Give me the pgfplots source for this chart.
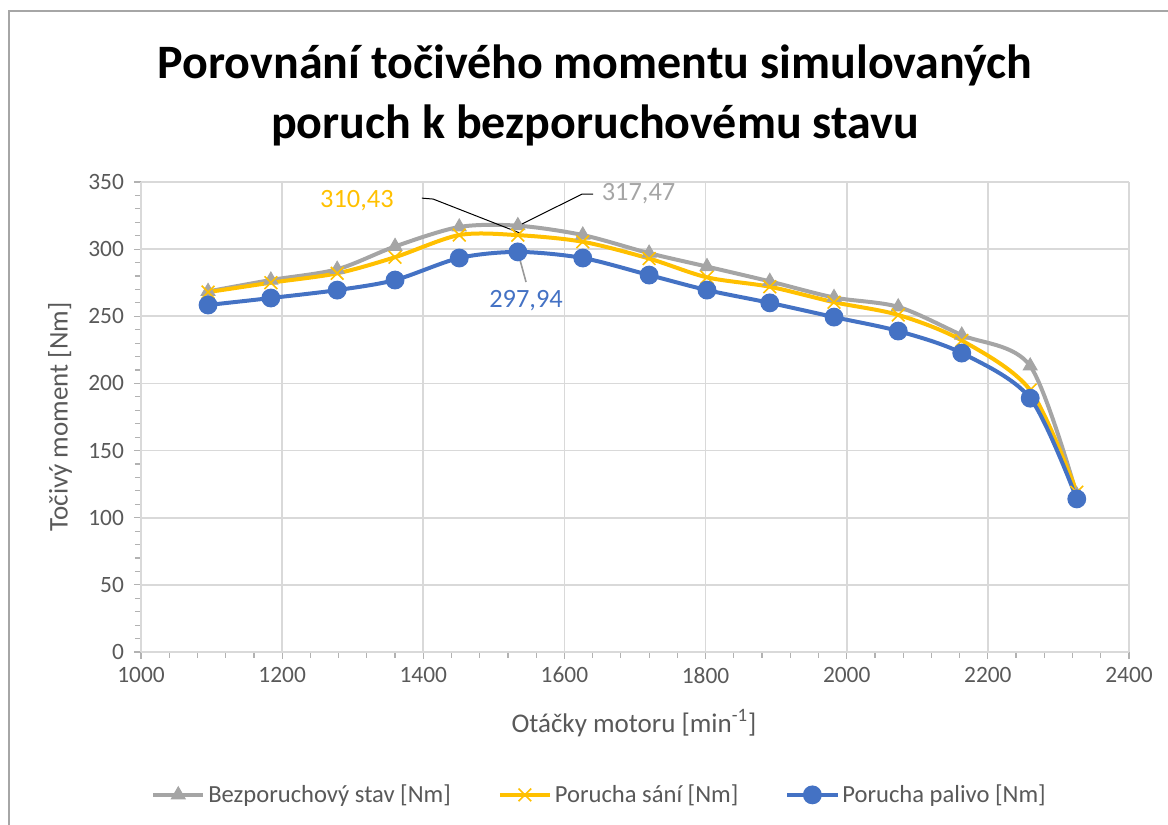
\documentclass[border=0pt]{standalone}
\usepackage{fontspec}
\setmainfont{Carlito}
\usepackage{pgfplots}
\pgfplotsset{compat=1.18}
\definecolor{cgray}{HTML}{A5A5A5}
\definecolor{cgold}{HTML}{FFC000}
\definecolor{cblue}{HTML}{4472C4}
\definecolor{cgrid}{HTML}{D9D9D9}
\definecolor{ctxt}{HTML}{595959}
\begin{document}
\begin{tikzpicture}[x=0.5pt,y=0.5pt]
\useasboundingbox (0,0) rectangle (1168,825);
\draw[color=black!35, line width=0.8pt] (9,0) -- (9,814) -- (1168,814);
\node[font=\bfseries\fontsize{24}{30}\selectfont, align=center] at (595,730) {Porovnání točivého momentu simulovaných\\poruch k bezporuchovému stavu};
\coordinate (A) at (141,173);
\begin{axis}[
  at={(A)}, anchor=south west,
  scale only axis, width=494pt, height=235pt,
  xmin=1000, xmax=2400, ymin=0, ymax=350,
  xtick distance=200, ytick distance=50,
  minor x tick num=4, minor y tick num=4,
  axis lines=left, axis line style={-, color=cgrid, line width=0.8pt},
  tick style={color=black!30, line width=0.6pt},
  tick align=outside, major tick length=3.5pt, minor tick length=3pt,
  grid=major, grid style={color=cgrid, line width=0.8pt},
  /pgf/number format/assume math mode=true,
  /pgf/number format/1000 sep={},
  ticklabel style={font=\fontsize{11.7}{13}\selectfont, color=ctxt},
  xticklabel style={yshift=-0.5pt},
  yticklabel style={xshift=-1.5pt},
  xlabel={Otáčky motoru [min\textsuperscript{-1}]},
  ylabel={Točivý moment [Nm]},
  label style={font=\fontsize{13.5}{15}\selectfont, color=ctxt},
  xlabel style={at={(axis description cs:0.499,-0.151)}, anchor=center},
  ylabel style={at={(axis description cs:-0.082,0.5)}, anchor=center, rotate=0},
  legend columns=3,
  legend style={at={(axis description cs:0.4646,-0.304)}, anchor=center, draw=none,
    font=\fontsize{12.3}{14}\selectfont, text=ctxt,
    /tikz/every even column/.append style={column sep=22pt},
    nodes={inner xsep=1.5pt},
    inner sep=0pt},
  legend image code/.code={\draw[mark repeat=2,mark phase=2] plot coordinates {(0pt,0pt) (12.5pt,0pt) (25pt,0pt)};},
  clip=false,
]
\addplot[cgray, line width=2pt, smooth, mark=triangle*, mark size=4pt, mark options={solid, fill=cgray, draw=cgray, line width=0.5pt}] coordinates {
(1095,268.5) (1184,277) (1278,285) (1360,302) (1451,316.5) (1534,317.47) (1626,310.5) (1720,297) (1802,287) (1891,276) (1982,264) (2073,257) (2163,236) (2260,213) (2326,117)};
\addlegendentry{Bezporuchový stav [Nm]}
\addplot[cgold, line width=2pt, smooth, mark=x, mark size=4.5pt, mark options={solid, draw=cgold, line width=0.8pt}] coordinates {
(1095,268) (1184,275) (1278,282) (1360,294) (1451,310.5) (1534,310.43) (1626,305.5) (1720,293) (1802,279) (1891,272) (1982,260.5) (2073,251) (2163,232) (2260,195) (2326,119)};
\addlegendentry{Porucha sání [Nm]}
\addplot[cblue, line width=2pt, smooth, mark=*, mark size=3.7pt, mark options={solid, fill=cblue, draw=cblue}] coordinates {
(1095,258.4) (1184,263.6) (1278,269.5) (1360,277) (1451,293.4) (1534,297.94) (1626,293.4) (1720,280.7) (1802,269.5) (1891,260) (1982,249.4) (2073,239) (2163,222.6) (2260,189) (2326,114)};
\addlegendentry{Porucha palivo [Nm]}
\draw[black, line width=0.5pt] (axis cs:1398,338) -- (axis cs:1414,337.3) -- (axis cs:1537,312);
\draw[black, line width=0.5pt] (axis cs:1640.5,341) -- (axis cs:1625,341) -- (axis cs:1537,318);
\draw[black!40, line width=0.8pt] (axis cs:1534,297.8) -- (axis cs:1545.6,275.5);
\node[font=\fontsize{13.2}{15}\selectfont, text=cgold] at (axis cs:1306,336.5) {310,43};
\node[font=\fontsize{13.2}{15}\selectfont, text=cgray] at (axis cs:1705,341.3) {317,47};
\node[font=\fontsize{13.2}{15}\selectfont, text=cblue] at (axis cs:1545.6,261.4) {297,94};
\end{axis}
\end{tikzpicture}
\end{document}
